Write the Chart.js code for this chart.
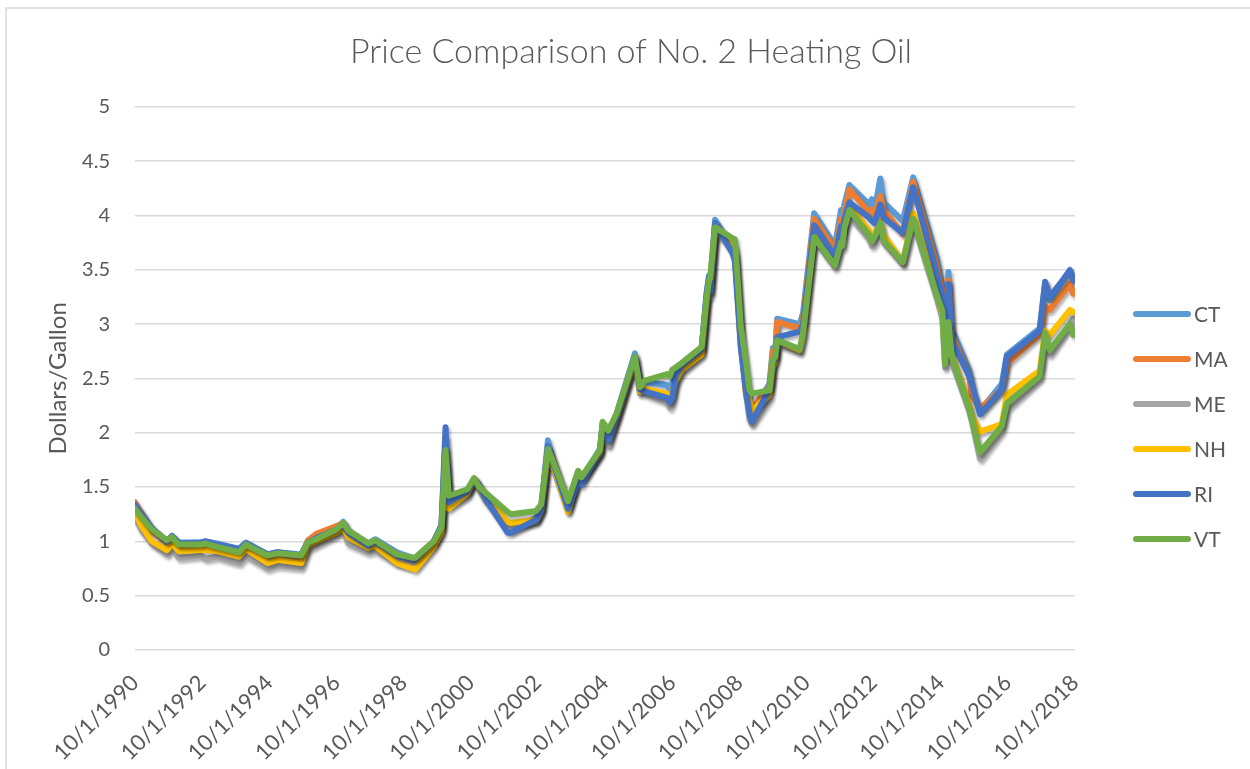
<!DOCTYPE html>
<html lang="en">
<head>
<meta charset="UTF-8">
<title>Price Comparison of No. 2 Heating Oil</title>
<script src="https://cdn.jsdelivr.net/npm/chart.js"></script>
<style>
  html, body { margin: 0; padding: 0; background: #fff; }
  #wrap { width: 1250px; height: 769px; }
</style>
</head>
<body>
<div id="wrap"><canvas id="oilChart" width="1250" height="769"></canvas></div>
<script>
// dates as decimal years (10/1/1990 = 1990.75)
const YEARS = [
  1990.75, 1990.95, 1991.25, 1991.70, 1991.85, 1992.05, 1992.70, 1992.85, 1993.20, 1993.85,
  1994.05, 1994.70, 1995.00, 1995.70, 1995.90, 1996.15, 1996.75, 1996.95, 1997.10, 1997.70,
  1997.90, 1998.55, 1999.00, 1999.10, 1999.65, 1999.88, 2000.00, 2000.10, 2000.65, 2000.85,
  2001.00, 2001.18, 2001.85, 2001.95, 2002.70, 2002.85, 2003.05, 2003.20, 2003.65, 2003.95,
  2004.05, 2004.60, 2004.68, 2004.85, 2005.10, 2005.64, 2005.79, 2005.94, 2006.60, 2006.68,
  2006.75, 2006.85, 2007.03, 2007.63, 2007.78, 2007.85, 2007.88, 2008.03, 2008.55, 2008.62,
  2008.80, 2008.95, 2009.05, 2009.12, 2009.65, 2009.75, 2009.82, 2009.88, 2010.55, 2010.65,
  2010.98, 2011.60, 2011.78, 2011.82, 2011.88, 2012.03, 2012.62, 2012.70, 2012.78, 2012.95,
  2013.05, 2013.62, 2013.93, 2014.62, 2014.80, 2014.88, 2014.98, 2015.08, 2015.60, 2015.68,
  2015.92, 2016.57, 2016.72, 2017.70, 2017.86, 2018.00, 2018.60, 2018.70
];

const CT = [
  1.33, 1.26, 1.12, 1.00, 1.05, 0.99, 0.99, 1.00, 0.98, 0.93,
  0.99, 0.88, 0.90, 0.88, 1.00, 1.04, 1.12, 1.18, 1.10, 0.98,
  1.02, 0.90, 0.85, 0.85, 1.00, 1.14, 1.95, 1.40, 1.47, 1.58,
  1.52, 1.42, 1.12, 1.10, 1.22, 1.30, 1.93, 1.75, 1.33, 1.62,
  1.58, 1.85, 2.08, 1.95, 2.18, 2.73, 2.44, 2.47, 2.44, 2.40,
  2.45, 2.55, 2.62, 2.78, 3.30, 3.45, 3.35, 3.96, 3.70, 3.62,
  2.85, 2.40, 2.28, 2.20, 2.45, 2.78, 2.72, 3.05, 3.00, 3.10,
  4.02, 3.72, 4.05, 3.90, 4.10, 4.28, 4.10, 4.15, 4.05, 4.34,
  4.12, 3.95, 4.35, 3.62, 3.35, 2.80, 3.48, 2.95, 2.58, 2.40,
  2.20, 2.45, 2.72, 2.96, 3.38, 3.22, 3.50, 3.42
];
const MA = [
  1.36, 1.25, 1.10, 0.99, 1.03, 0.97, 0.97, 0.97, 0.96, 0.91,
  0.98, 0.86, 0.89, 0.86, 1.01, 1.07, 1.14, 1.17, 1.09, 0.97,
  1.00, 0.88, 0.84, 0.84, 1.00, 1.12, 1.85, 1.38, 1.46, 1.58,
  1.51, 1.42, 1.15, 1.15, 1.20, 1.30, 1.85, 1.72, 1.32, 1.60,
  1.58, 1.83, 2.05, 1.90, 2.15, 2.68, 2.40, 2.40, 2.34, 2.30,
  2.35, 2.50, 2.60, 2.75, 3.25, 3.40, 3.30, 3.92, 3.72, 3.65,
  2.80, 2.35, 2.20, 2.22, 2.42, 2.75, 2.70, 3.02, 2.96, 3.05,
  3.97, 3.68, 3.97, 3.85, 4.02, 4.24, 4.03, 4.05, 4.00, 4.18,
  4.05, 3.83, 4.31, 3.55, 3.30, 2.75, 3.40, 2.90, 2.52, 2.35,
  2.22, 2.40, 2.64, 2.91, 3.16, 3.13, 3.37, 3.28
];
const ME = [
  1.22, 1.10, 0.98, 0.88, 0.94, 0.85, 0.87, 0.84, 0.86, 0.80,
  0.87, 0.75, 0.78, 0.76, 0.93, 0.97, 1.06, 1.10, 0.98, 0.90,
  0.92, 0.80, 0.77, 0.77, 0.96, 1.08, 1.75, 1.33, 1.42, 1.55,
  1.48, 1.38, 1.13, 1.13, 1.18, 1.27, 1.80, 1.68, 1.28, 1.58,
  1.55, 1.80, 2.02, 1.88, 2.12, 2.65, 2.36, 2.36, 2.28, 2.23,
  2.27, 2.45, 2.56, 2.72, 3.20, 3.33, 3.25, 3.85, 3.70, 3.63,
  2.78, 2.40, 2.12, 2.08, 2.32, 2.62, 2.65, 2.82, 2.74, 2.88,
  3.78, 3.52, 3.72, 3.70, 3.85, 4.00, 3.78, 3.72, 3.75, 3.88,
  3.75, 3.55, 3.94, 3.25, 3.05, 2.60, 2.95, 2.65, 2.20, 2.10,
  1.76, 2.02, 2.22, 2.50, 2.85, 2.72, 3.00, 3.05
];
const NH = [
  1.27, 1.14, 1.00, 0.92, 0.98, 0.91, 0.92, 0.92, 0.91, 0.86,
  0.93, 0.80, 0.83, 0.80, 0.96, 1.00, 1.08, 1.12, 1.04, 0.94,
  0.96, 0.80, 0.75, 0.74, 0.95, 1.08, 1.70, 1.30, 1.44, 1.57,
  1.50, 1.40, 1.18, 1.17, 1.20, 1.29, 1.80, 1.70, 1.27, 1.60,
  1.58, 1.82, 2.05, 1.95, 2.15, 2.68, 2.38, 2.40, 2.36, 2.30,
  2.36, 2.48, 2.58, 2.72, 3.22, 3.38, 3.30, 3.90, 3.75, 3.70,
  2.85, 2.50, 2.30, 2.20, 2.35, 2.60, 2.65, 2.85, 2.76, 2.90,
  3.83, 3.57, 3.78, 3.75, 3.90, 4.08, 3.86, 3.80, 3.82, 3.95,
  3.82, 3.57, 4.02, 3.30, 3.10, 2.68, 3.00, 2.72, 2.25, 2.15,
  2.01, 2.08, 2.35, 2.57, 2.94, 2.90, 3.13, 3.11
];
const RI = [
  1.34, 1.24, 1.12, 1.00, 1.05, 0.98, 0.99, 1.00, 0.97, 0.93,
  0.98, 0.88, 0.90, 0.87, 0.99, 1.03, 1.11, 1.16, 1.08, 0.96,
  1.00, 0.87, 0.84, 0.84, 1.00, 1.15, 2.05, 1.36, 1.46, 1.57,
  1.51, 1.40, 1.08, 1.08, 1.20, 1.29, 1.88, 1.73, 1.30, 1.55,
  1.52, 1.84, 2.08, 1.93, 2.16, 2.70, 2.40, 2.38, 2.32, 2.28,
  2.32, 2.52, 2.62, 2.77, 3.28, 3.43, 3.30, 3.93, 3.65, 3.58,
  2.78, 2.38, 2.18, 2.10, 2.40, 2.65, 2.68, 2.88, 2.93, 3.00,
  3.91, 3.62, 3.90, 3.82, 3.97, 4.12, 3.98, 3.95, 3.93, 4.10,
  3.98, 3.84, 4.26, 3.48, 3.25, 2.75, 3.37, 2.85, 2.52, 2.45,
  2.17, 2.40, 2.70, 2.94, 3.39, 3.25, 3.49, 3.40
];
const VT = [
  1.30, 1.22, 1.11, 1.01, 1.04, 0.97, 0.97, 0.98, 0.95, 0.90,
  0.97, 0.87, 0.89, 0.87, 0.99, 1.02, 1.11, 1.17, 1.10, 0.98,
  1.01, 0.88, 0.85, 0.85, 1.00, 1.13, 1.84, 1.42, 1.48, 1.58,
  1.50, 1.45, 1.27, 1.25, 1.28, 1.34, 1.85, 1.74, 1.37, 1.65,
  1.59, 1.84, 2.10, 2.02, 2.18, 2.70, 2.42, 2.48, 2.54, 2.52,
  2.58, 2.60, 2.64, 2.79, 3.25, 3.40, 3.42, 3.89, 3.79, 3.78,
  2.97, 2.65, 2.40, 2.36, 2.39, 2.67, 2.70, 2.85, 2.77, 2.92,
  3.80, 3.54, 3.75, 3.72, 3.88, 4.05, 3.82, 3.76, 3.80, 3.93,
  3.77, 3.57, 3.97, 3.28, 3.12, 2.63, 3.02, 2.70, 2.22, 2.12,
  1.82, 2.06, 2.27, 2.52, 2.92, 2.76, 3.00, 2.90
];

const STATES = ['CT', 'MA', 'ME', 'NH', 'RI', 'VT'];
const COLORS = ['#5B9BD5', '#ED7D31', '#A5A5A5', '#FFC000', '#4472C4', '#70AD47'];
const SERIES = [CT, MA, ME, NH, RI, VT];

const TICK_YEARS = [1990.75, 1992.75, 1994.75, 1996.75, 1998.75, 2000.75, 2002.75, 2004.75,
                    2006.75, 2008.75, 2010.75, 2012.75, 2014.75, 2016.75, 2018.75];
const TICK_LABELS = ['10/1/1990', '10/1/1992', '10/1/1994', '10/1/1996', '10/1/1998', '10/1/2000',
                     '10/1/2002', '10/1/2004', '10/1/2006', '10/1/2008', '10/1/2010', '10/1/2012',
                     '10/1/2014', '10/1/2016', '10/1/2018'];

const FONT = 'Lato, "Open Sans", sans-serif';
const TEXT = '#595959';

// light frame around the chart, like the spreadsheet chart object
const framePlugin = {
  id: 'frame',
  beforeDraw(chart) {
    const ctx = chart.ctx;
    ctx.save();
    ctx.fillStyle = '#fff';
    ctx.fillRect(0, 0, chart.width, chart.height);
    ctx.strokeStyle = '#d9d9d9';
    ctx.lineWidth = 1.5;
    ctx.strokeRect(6, 8, chart.width + 20, chart.height + 20);
    ctx.restore();
  }
};

// soft shadow under every line
const shadowPlugin = {
  id: 'lineShadow',
  beforeDatasetDraw(chart) {
    const ctx = chart.ctx;
    ctx.save();
    ctx.shadowColor = 'rgba(0,0,0,0.3)';
    ctx.shadowBlur = 3;
    ctx.shadowOffsetX = 2;
    ctx.shadowOffsetY = 3;
  },
  afterDatasetDraw(chart) {
    chart.ctx.restore();
  }
};

// legend on the right, same spacing as the original
const legendPlugin = {
  id: 'sideLegend',
  afterDraw(chart) {
    const ctx = chart.ctx;
    ctx.save();
    chart.data.datasets.forEach((ds, i) => {
      const y = 314 + i * 45;
      ctx.strokeStyle = ds.borderColor;
      ctx.lineWidth = 6;
      ctx.lineCap = 'round';
      ctx.beginPath();
      ctx.moveTo(1136, y);
      ctx.lineTo(1188, y);
      ctx.stroke();
      ctx.fillStyle = TEXT;
      ctx.font = '21px ' + FONT;
      ctx.textAlign = 'left';
      ctx.textBaseline = 'middle';
      ctx.fillText(ds.label, 1194, y + 1);
    });
    ctx.restore();
  }
};

const datasets = STATES.map((name, i) => ({
  label: name,
  data: YEARS.map((x, j) => ({ x: x, y: SERIES[i][j] })),
  borderColor: COLORS[i],
  backgroundColor: COLORS[i],
  borderWidth: 6,
  borderCapStyle: 'round',
  borderJoinStyle: 'round',
  pointRadius: 0,
  tension: 0,
  fill: false,
  order: STATES.length - i   // VT on top, CT at the bottom
}));

new Chart(document.getElementById('oilChart'), {
  type: 'line',
  data: { datasets: datasets },
  plugins: [framePlugin, shadowPlugin, legendPlugin],
  options: {
    responsive: false,
    animation: false,
    layout: { padding: { left: 44, right: 32, top: 0, bottom: 0 } },
    plugins: {
      legend: { display: false },
      tooltip: { enabled: false },
      title: {
        display: true,
        text: 'Price Comparison of No. 2 Heating Oil',
        color: TEXT,
        font: { family: FONT, size: 34, weight: 300 },
        padding: { top: 32, bottom: 34 }
      }
    },
    scales: {
      x: {
        type: 'linear',
        min: TICK_YEARS[0],
        max: TICK_YEARS[TICK_YEARS.length - 1],
        afterBuildTicks(scale) {
          scale.ticks = TICK_YEARS.map(v => ({ value: v }));
        },
        afterFit(scale) { scale.height = 119; },
        ticks: {
          autoSkip: false,
          maxRotation: 45,
          minRotation: 45,
          padding: 20,
          color: TEXT,
          font: { family: FONT, size: 22 },
          callback: (v, i) => TICK_LABELS[i]
        },
        grid: { display: false, drawTicks: false },
        border: { display: false }
      },
      y: {
        min: 0,
        max: 5,
        afterFit(scale) { scale.width = 91; },
        ticks: {
          stepSize: 0.5,
          padding: 25,
          color: TEXT,
          font: { family: FONT, size: 20 },
          callback: v => String(v)
        },
        grid: { color: '#d9d9d9', lineWidth: 1.5, drawTicks: false },
        border: { display: false },
        title: {
          display: true,
          text: 'Dollars/Gallon',
          color: TEXT,
          padding: 0,
          font: { family: FONT, size: 24 }
        }
      },
      // empty space on the right that holds the legend
      legendSpace: {
        position: 'right',
        afterFit(scale) { scale.width = 143; },
        ticks: { display: false },
        grid: { display: false, drawTicks: false },
        border: { display: false }
      }
    }
  }
});
</script>
</body>
</html>
